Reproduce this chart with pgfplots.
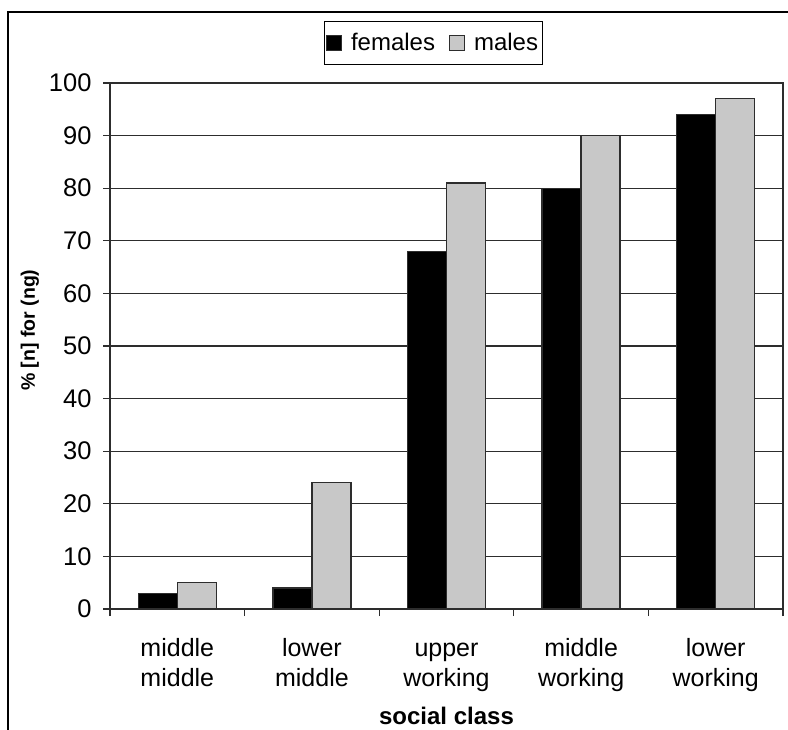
\documentclass[border=0pt]{standalone}
\usepackage{fontspec}
\setmainfont{Liberation Sans}
\usepackage{pgfplots}
\pgfplotsset{compat=1.18}
\definecolor{malegray}{RGB}{200,200,200}
\definecolor{linecol}{RGB}{45,45,45}

\pgfplotsset{
  sq legend/.style={legend image code/.code={
    \draw[##1, line width=1bp] (0bp,-7bp) rectangle (15bp,8bp);}},
}

\begin{document}
\begin{tikzpicture}
\path[use as bounding box] (0,0) rectangle (788bp,730bp);
\draw[line width=2bp] (8bp,0) -- (8bp,718bp);
\draw[line width=2.5bp] (7bp,718bp) -- (788bp,718bp);
\begin{axis}[
    at={(110bp,121bp)}, anchor=south west,
    scale only axis, width=673bp, height=526bp,
    ybar, bar width=0.29,
    xmin=-0.5, xmax=4.5,
    ymin=0, ymax=100,
    ytick={0,10,...,100},
    xtick={-0.5,0.5,...,4.5},
    xticklabels={},
    extra x ticks={0,1,2,3,4},
    extra x tick labels={{middle\strut\\middle},{lower\strut\\middle},{upper\strut\\working},{middle\strut\\working},{lower\strut\\working}},
    extra x tick style={major tick length=0pt},
    tick pos=left, tick align=outside,
    major tick length=7bp,
    ymajorgrids=true,
    grid style={linecol, line width=1.3bp},
    axis line style={linecol, line width=1.3bp},
    tick style={linecol, line width=1.3bp},
    /pgf/number format/assume math mode=true,
    yticklabel style={font=\fontsize{25.5bp}{30bp}\selectfont, xshift=-8bp},
    xticklabel style={font=\fontsize{25bp}{30bp}\selectfont, align=center, yshift=-23bp},
    xlabel={social class},
    ylabel={\% [n] for (ng)},
    xlabel style={font=\bfseries\fontsize{24bp}{28bp}\selectfont,
      at={(rel axis cs:0.5,0)}, anchor=center, yshift=-107bp},
    ylabel style={font=\bfseries\fontsize{19.5bp}{24bp}\selectfont,
      at={(rel axis cs:-0.1189,0.53)}, anchor=center},
    legend style={at={(rel axis cs:0.48,1.076)}, anchor=center,
      legend columns=-1, draw=black, line width=1bp,
      inner xsep=2bp, inner ysep=10bp,
      font=\fontsize{24bp}{28bp}\selectfont,
      /tikz/every odd column/.append style={column sep=7bp},
      /tikz/every even column/.append style={column sep=12bp}},
]
\addplot[fill=black, draw=linecol, line width=1.3bp, bar shift=-0.145, sq legend]
  coordinates {(0,3)(1,4)(2,68)(3,80)(4,94)};
\addlegendentry{females}
\addplot[fill=malegray, draw=linecol, line width=1.3bp, bar shift=0.145, sq legend]
  coordinates {(0,5)(1,24)(2,81)(3,90)(4,97)};
\addlegendentry{males}
\end{axis}
\end{tikzpicture}
\end{document}
